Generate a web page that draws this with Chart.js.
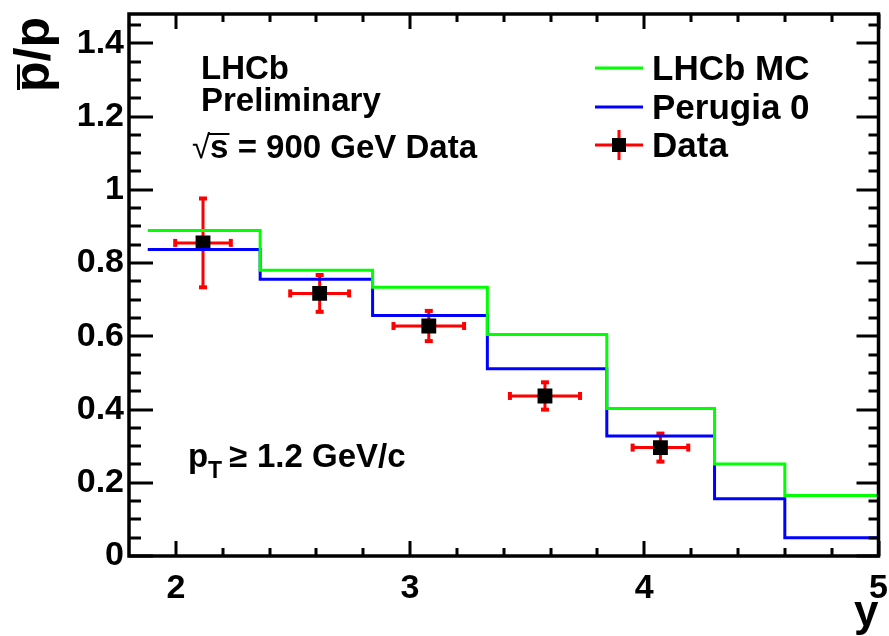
<!DOCTYPE html>
<html>
<head>
<meta charset="utf-8">
<script src="https://cdn.jsdelivr.net/npm/chart.js@4.4.0/dist/chart.umd.min.js"></script>
<style>
  html, body { margin: 0; padding: 0; background: #fff; }
  #wrap { width: 889px; height: 636px; }
</style>
</head>
<body>
<div id="wrap"><canvas id="ratioChart" width="889" height="636"></canvas></div>
<script>
// histogram bin edges (rapidity y) and bin contents
const binEdges = [1.88, 2.36, 2.84, 3.33, 3.84, 4.30, 4.60, 5.0];
const lhcbMC = [0.889, 0.780, 0.734, 0.605, 0.403, 0.251, 0.165];
const perugia0 = [0.837, 0.756, 0.657, 0.511, 0.328, 0.156, 0.050];

// measured points
const dataRapidity = [2.116, 2.614, 3.080, 3.576, 4.069];
const dataRapidityErr = [0.123, 0.130, 0.155, 0.154, 0.123];
const dataRatio = [0.855, 0.717, 0.628, 0.437, 0.296];
const dataRatioErr = [0.124, 0.053, 0.044, 0.040, 0.041];

// axes
const xTickValues = [2, 3, 4, 5];
const xTickLabels = ['2', '3', '4', '5'];
const yTickValues = [0, 0.2, 0.4, 0.6, 0.8, 1.0, 1.2, 1.4];
const yTickLabels = ['0', '0.2', '0.4', '0.6', '0.8', '1', '1.2', '1.4'];

const FONT = '"Liberation Sans", Arial, Helvetica, sans-serif';

function stepPoints(edges, vals) {
    // one point per left edge, the last one closes the final bin
    const pts = vals.map((v, i) => ({ x: edges[i], y: v }));
    pts.push({ x: edges[edges.length - 1], y: vals[vals.length - 1] });
    return pts;
}

// inward ROOT-like ticks on all four sides, plus the frame
const frameTicks = {
    id: 'frameTicks',
    afterDraw(chart) {
        const { ctx, chartArea: a, scales: { x, y } } = chart;
        ctx.save();
        ctx.strokeStyle = '#000';
        ctx.lineWidth = 3;
        ctx.lineCap = 'butt';
        ctx.beginPath();
        for (let i = 0; i <= 29; i++) {
            const v = i * 0.05;
            const py = Math.round(y.getPixelForValue(v));
            const len = (i % 4 === 0) ? 24 : 12;
            ctx.moveTo(a.left, py); ctx.lineTo(a.left + len, py);
            ctx.moveTo(a.right, py); ctx.lineTo(a.right - len + 2, py);
        }
        for (let i = 1; i <= 16; i++) {
            const v = 1.8 + i * 0.2;
            const px = Math.round(x.getPixelForValue(v));
            const len = (i % 5 === 1) ? 15 : 8;
            ctx.moveTo(px, a.bottom); ctx.lineTo(px, a.bottom - len);
            ctx.moveTo(px, a.top); ctx.lineTo(px, a.top + len);
        }
        ctx.stroke();
        ctx.lineWidth = 3.5;
        ctx.strokeRect(a.left, a.top, a.right - a.left, a.bottom - a.top);
        ctx.restore();
    }
};

// error bars drawn just before the data markers
const errorBars = {
    id: 'errorBars',
    beforeDatasetDraw(chart, args) {
        if (args.index !== 2) return;
        const { ctx, scales: { x, y } } = chart;
        ctx.save();
        ctx.strokeStyle = '#ff0000';
        ctx.fillStyle = '#ff0000';
        ctx.lineWidth = 3;
        dataRatio.forEach((v, i) => {
            const cx = x.getPixelForValue(dataRapidity[i]);
            const cy = y.getPixelForValue(v);
            const x0 = x.getPixelForValue(dataRapidity[i] - dataRapidityErr[i]);
            const x1 = x.getPixelForValue(dataRapidity[i] + dataRapidityErr[i]);
            const y0 = y.getPixelForValue(v + dataRatioErr[i]);
            const y1 = y.getPixelForValue(v - dataRatioErr[i]);
            ctx.beginPath();
            ctx.moveTo(x0, cy); ctx.lineTo(x1, cy);
            ctx.moveTo(cx, y0); ctx.lineTo(cx, y1);
            ctx.stroke();
            ctx.fillRect(x0 - 1, cy - 4, 4, 8);
            ctx.fillRect(x1 - 3, cy - 4, 4, 8);
            ctx.fillRect(cx - 4, y0 - 1, 8, 4);
            ctx.fillRect(cx - 4, y1 - 3, 8, 4);
        });
        ctx.restore();
    }
};

// titles, labels and legend
const annotations = {
    id: 'annotations',
    afterDraw(chart) {
        const { ctx, chartArea: a } = chart;
        ctx.save();
        ctx.fillStyle = '#000';
        ctx.textBaseline = 'alphabetic';

        // y axis title: pbar/p, rotated
        ctx.save();
        ctx.font = 'bold 50px ' + FONT;
        const tw = ctx.measureText('p/p').width;
        const pw = ctx.measureText('p').width;
        ctx.translate(49, 17 + tw);
        ctx.rotate(-Math.PI / 2);
        ctx.fillText('p/p', 0, 0);
        ctx.fillRect(2, -32, pw - 5, 3);
        ctx.restore();

        // x axis title
        ctx.font = 'bold 44px ' + FONT;
        ctx.textAlign = 'right';
        ctx.fillText('y', a.right, 626);
        ctx.textAlign = 'left';

        // top-left labels
        ctx.font = 'bold 33px ' + FONT;
        ctx.fillText('LHCb', 201, 79);
        ctx.fillText('Preliminary', 201, 111);
        ctx.font = '33px ' + FONT;
        ctx.fillText('\u221A', 192, 158);
        const rw = ctx.measureText('\u221A').width;
        ctx.font = 'bold 33px ' + FONT;
        const sw = ctx.measureText('s').width;
        ctx.fillText('s', 192 + rw, 158);
        ctx.fillRect(192 + rw - 2, 133, sw + 3, 2);
        ctx.fillText(' = 900 GeV Data', 192 + rw + sw, 158);

        // pT cut
        ctx.fillText('p', 188, 467);
        ctx.font = 'bold 23px ' + FONT;
        ctx.fillText('T', 208, 478);
        ctx.font = 'bold 33px ' + FONT;
        ctx.fillText('\u2265', 229, 467);
        ctx.fillText('1.2 GeV/c', 257, 467);

        // legend
        const ds = chart.data.datasets;
        const rows = [68, 107, 145];
        ctx.font = 'bold 35px ' + FONT;
        ds.forEach((d, i) => {
            const ry = rows[i];
            ctx.fillStyle = '#000';
            ctx.fillText(d.label, 652, ry + 12);
            ctx.lineWidth = 3;
            if (i < 2) {
                ctx.strokeStyle = d.borderColor;
                ctx.beginPath();
                ctx.moveTo(595, ry); ctx.lineTo(643, ry);
                ctx.stroke();
            } else {
                ctx.strokeStyle = '#ff0000';
                ctx.beginPath();
                ctx.moveTo(595, ry); ctx.lineTo(643, ry);
                ctx.moveTo(619, ry - 15); ctx.lineTo(619, ry + 15);
                ctx.stroke();
                ctx.fillStyle = '#000';
                ctx.fillRect(612, ry - 7, 14, 14);
            }
        });
        ctx.restore();
    }
};

const ctx = document.getElementById('ratioChart').getContext('2d');
new Chart(ctx, {
    type: 'scatter',
    data: {
        datasets: [{
            type: 'line',
            label: 'LHCb MC',
            data: stepPoints(binEdges, lhcbMC),
            stepped: 'before',
            borderColor: '#00ff00',
            borderWidth: 3,
            pointRadius: 0,
            fill: false,
        }, {
            type: 'line',
            label: 'Perugia 0',
            data: stepPoints(binEdges, perugia0),
            stepped: 'before',
            borderColor: '#0000ff',
            borderWidth: 3,
            pointRadius: 0,
            fill: false,
        }, {
            label: 'Data',
            data: dataRapidity.map((v, i) => ({ x: v, y: dataRatio[i] })),
            pointStyle: 'rect',
            pointRadius: 10.5,
            backgroundColor: '#000',
            borderColor: '#000',
            borderWidth: 0,
        }]
    },
    options: {
        responsive: false,
        animation: false,
        events: [],
        layout: { padding: { top: 14, right: 8, left: 0, bottom: 0 } },
        plugins: { legend: { display: false }, tooltip: { enabled: false } },
        scales: {
            x: {
                type: 'linear',
                min: 1.8,
                max: 5.0,
                grid: { display: false, drawTicks: false },
                border: { display: false },
                afterBuildTicks: s => { s.ticks = xTickValues.map(v => ({ value: v })); },
                afterFit: s => { s.height = 80; s.paddingLeft = 0; s.paddingRight = 0; },
                ticks: {
                    autoSkip: false,
                    maxRotation: 0,
                    padding: 12,
                    color: '#000',
                    font: { family: FONT, size: 34, weight: 'bold' },
                    callback: (v, i) => xTickLabels[i],
                }
            },
            y: {
                min: 0,
                max: 1.48,
                grid: { display: false, drawTicks: false },
                border: { display: false },
                afterBuildTicks: s => { s.ticks = yTickValues.map(v => ({ value: v })); },
                afterFit: s => { s.width = 129; s.paddingTop = 0; s.paddingBottom = 0; },
                ticks: {
                    autoSkip: false,
                    padding: 5,
                    color: '#000',
                    font: { family: FONT, size: 34, weight: 'bold' },
                    callback: (v, i) => yTickLabels[i],
                }
            }
        }
    },
    plugins: [frameTicks, errorBars, annotations]
});
</script>
</body>
</html>
